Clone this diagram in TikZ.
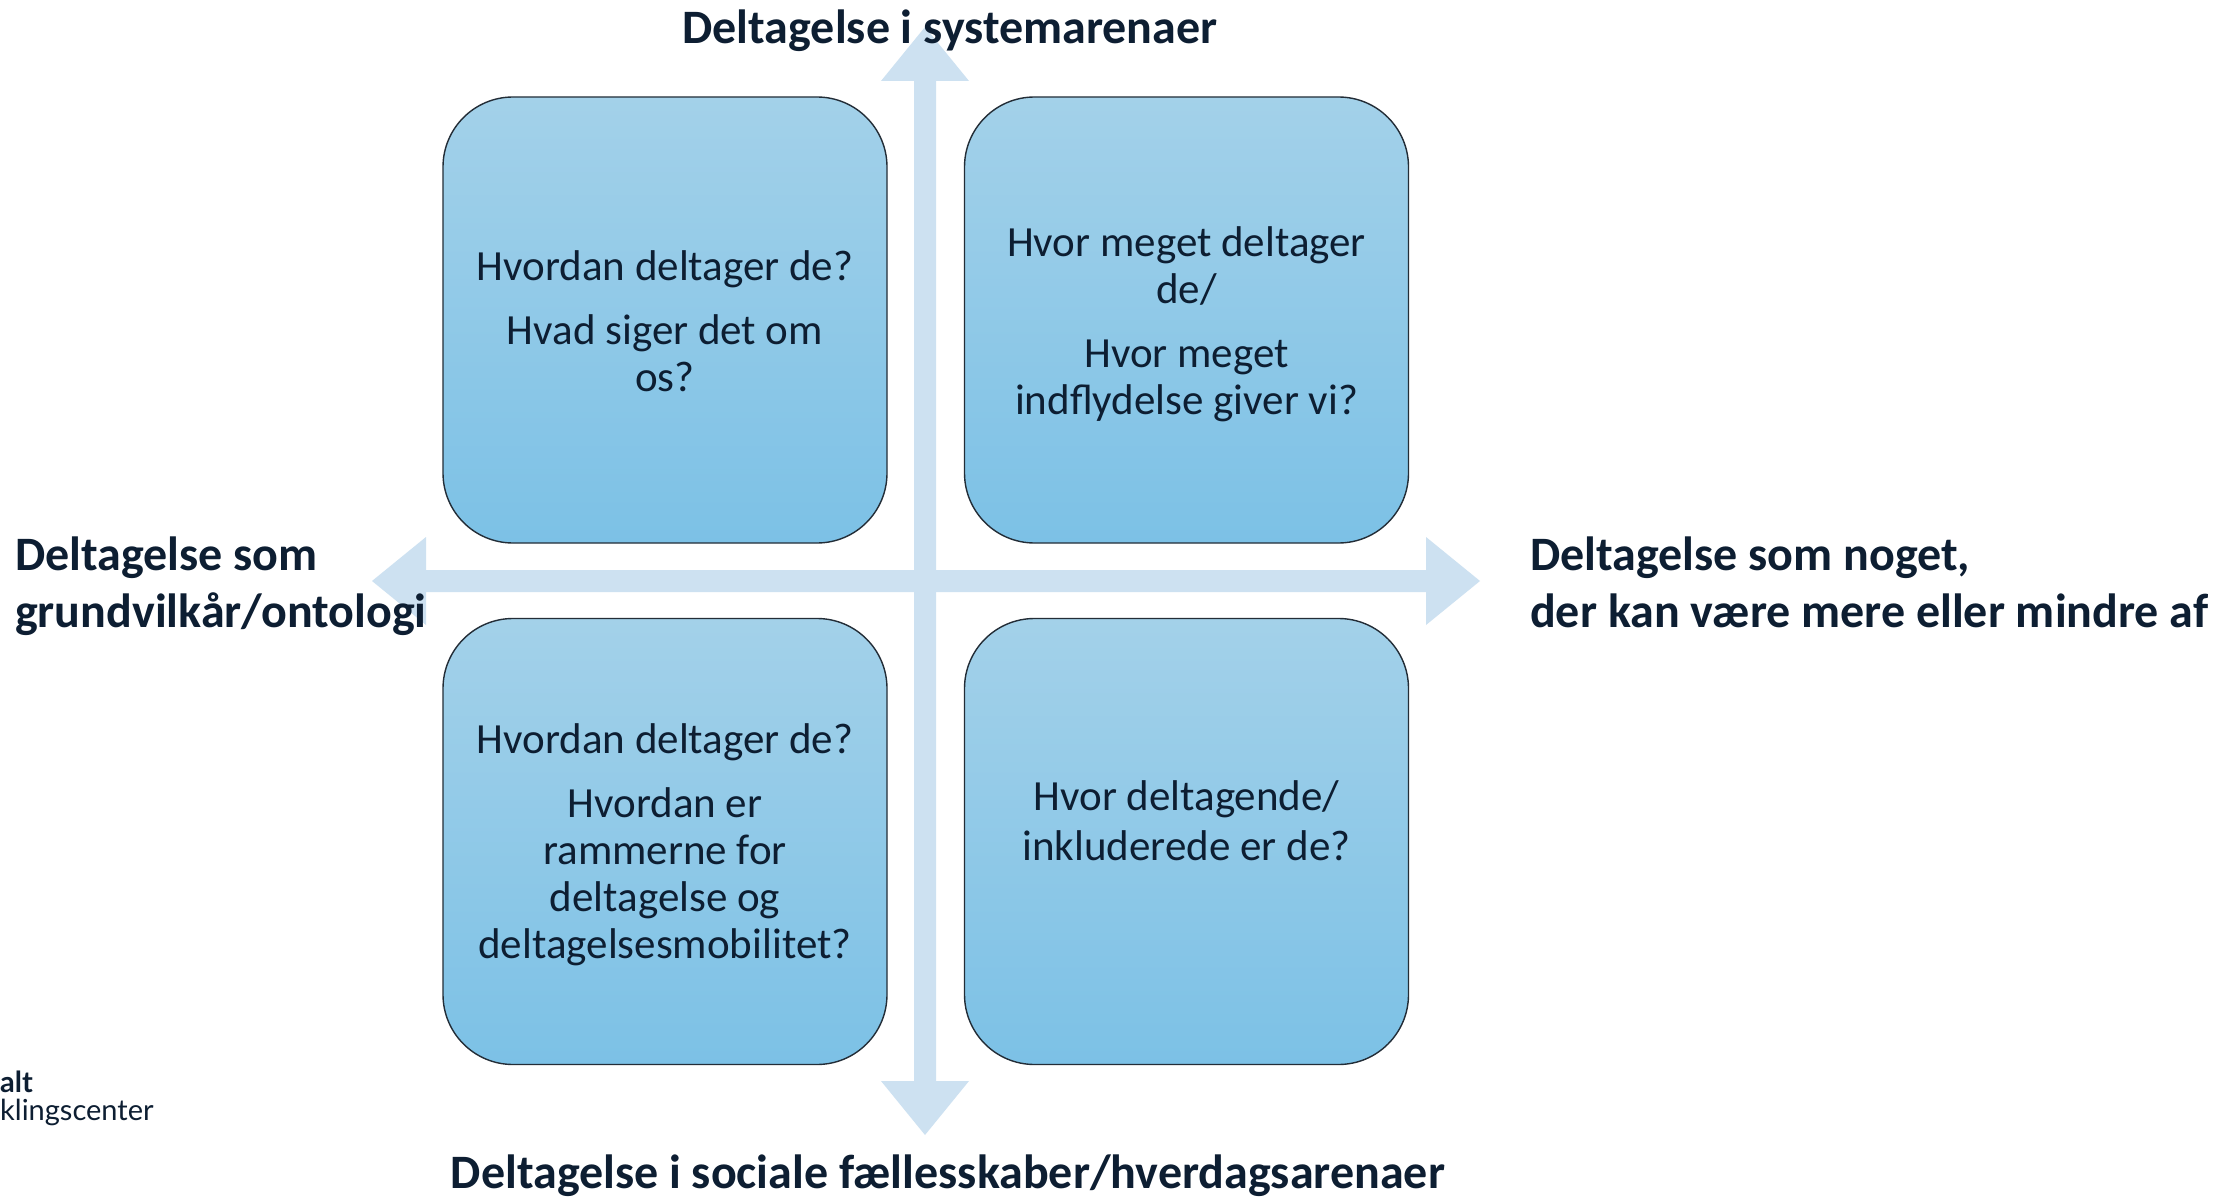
\documentclass[tikz,border=0pt]{standalone}
\usepackage{fontspec}
\setmainfont{Carlito}
\newfontfamily\logofont{Lato}
\definecolor{ink}{RGB}{13,30,50}
\definecolor{axisblue}{RGB}{205,225,241}
\definecolor{boxtop}{RGB}{163,209,233}
\definecolor{boxbot}{RGB}{124,193,230}
\definecolor{boxedge}{RGB}{35,45,55}
\begin{document}
\begin{tikzpicture}[x=1pt,y=-1pt,
  quad/.style={rectangle, rounded corners=70pt, draw=boxedge, line width=1.4pt,
    top color=boxtop, bottom color=boxbot, minimum width=444pt, minimum height=446pt, inner sep=0pt},
  quadtext/.style={text=ink, align=center, font=\fontsize{43}{47}\selectfont, inner sep=0pt},
  heading/.style={text=ink, font=\fontsize{48}{57}\selectfont\bfseries, inner sep=0pt},
  logo/.style={text=ink, inner sep=0pt, anchor=base west}]
\useasboundingbox (0,0) rectangle (2236,1198);
\fill[white] (0,0) rectangle (2236,1198);

% axis cross: two double-headed block arrows
\coordinate (ctr) at (925,581);
\fill[axisblue] (914,81) -- (881,81) -- (925,27) -- (969,81) -- (936,81)
  -- (936,1081) -- (969,1081) -- (925,1135) -- (881,1081) -- (914,1081) -- cycle;
\fill[axisblue] (426,570) -- (426,537) -- (372,581) -- (426,625) -- (426,592)
  -- (1426,592) -- (1426,625) -- (1480,581) -- (1426,537) -- (1426,570) -- cycle;

% quadrants
\node[quad] (tl) at (665,320) {};
\node[quad] (tr) at (1186.5,320) {};
\node[quad] (bl) at (665,841.5) {};
\node[quad] (br) at (1186.5,841.5) {};

\node[quadtext] (tltext) at ([yshift=-1pt]tl.center)
  {Hvordan deltager de?\\[17pt]Hvad siger det om\\os?};
\node[quadtext] (trtext) at ([yshift=-4pt]tr.center)
  {Hvor meget deltager\\de/\\[17pt]Hvor meget\\indflydelse giver vi?};
\node[quadtext] (bltext) at ([yshift=-3pt]bl.center)
  {Hvordan deltager de?\\[17pt]Hvordan er\\rammerne for\\deltagelse og\\deltagelsesmobilitet?};
\node[quadtext, font=\fontsize{43}{50}\selectfont] (brtext) at ([yshift=21pt]br.center)
  {Hvor deltagende/\\inkluderede er de?};

% axis captions
\node[heading, anchor=base] (top) at (950,44) {Deltagelse i systemarenaer};
\node[heading, anchor=base] (bottom) at (948,1188) {Deltagelse i sociale fællesskaber/hverdagsarenaer};
\node[heading, anchor=west, align=left] (left) at (15,586) {Deltagelse som\\grundvilkår/ontologi};
\node[heading, anchor=west, align=left] (right) at (1530,582) {Deltagelse som noget,\\der kan være mere eller mindre af};

% organisation mark
\node[logo, font=\logofont\fontsize{29}{34}\selectfont\bfseries] (logo1) at (0,1092) {alt};
\node[logo, font=\logofont\fontsize{29}{34}\selectfont] (logo2) at (0,1120) {klingscenter};
\end{tikzpicture}
\end{document}
